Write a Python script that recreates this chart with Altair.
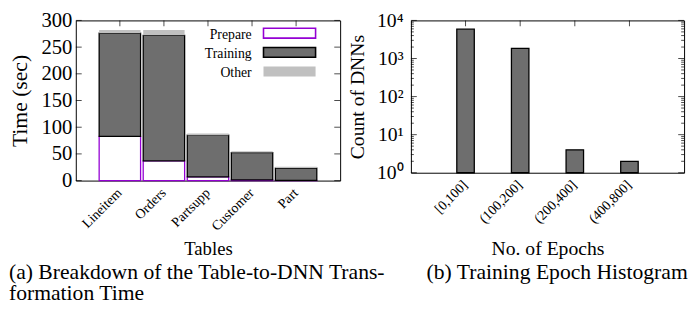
import altair as alt
import pandas as pd

# ---------------- data ----------------
tables = ["Lineitem", "Orders", "Partsupp", "Customer", "Part"]
prepare = [83, 37, 7, 1.5, 0.3]
training = [193, 235, 78, 51, 23.2]
other = [6, 10, 3, 2.5, 2.5]
series = ["Prepare", "Training", "Other"]
time_ticks = [0, 50, 100, 150, 200, 250, 300]

epochs = ["[0,100]", "(100,200]", "(200,400]", "(400,800]"]
counts = [5900, 1850, 4, 2]
count_ticks = [1, 10, 100, 1000, 10000]
count_minor = [2, 3, 4, 5, 6, 7, 8, 9,
               20, 30, 40, 50, 60, 70, 80, 90,
               200, 300, 400, 500, 600, 700, 800, 900,
               2000, 3000, 4000, 5000, 6000, 7000, 8000, 9000]

FONT = "'Liberation Serif', 'Times New Roman', Times, serif"
HATCH = "#6e6e6e"
fill_range = ["white", HATCH, "#c0c0c0"]
stroke_range = ["#9400d3", "black", "transparent"]

W1, H1 = 269, 163
W2, H2 = 278, 155

# ---------------- left panel ----------------
rows = []
for i, t in enumerate(tables):
    for k, (s, vals) in enumerate(zip(series, [prepare, training, other])):
        rows.append({"table": t, "series": s, "value": vals[i], "k": k})
df_a = pd.DataFrame(rows)

x_a_scale = alt.Scale(paddingInner=0.06, paddingOuter=0.53)
x_a_axis = alt.Axis(title="Tables", labelAngle=-45, labelFontSize=14, labelPadding=10,
                    labelBaseline="middle", labelAlign="right", titleFontSize=19,
                    titleY=75, titleBaseline="alphabetic")
y_a_scale = alt.Scale(domain=[0, 300], nice=False)
y_a_axis = alt.Axis(title="Time (sec)", values=time_ticks, labelFontSize=21,
                    labelPadding=4, titleFontSize=22, titlePadding=10)
fill_a = alt.Fill("series:N", scale=alt.Scale(domain=series, range=fill_range), legend=None)
stroke_a = alt.Stroke("series:N", scale=alt.Scale(domain=series, range=stroke_range), legend=None)

bars_a = alt.Chart(df_a).mark_bar(strokeWidth=1.3).encode(
    x=alt.X("table:N", sort=tables, scale=x_a_scale, axis=x_a_axis),
    y=alt.Y("value:Q", stack="zero", scale=y_a_scale, axis=y_a_axis),
    fill=fill_a, stroke=stroke_a, order=alt.Order("k:Q"),
)

yt_a = pd.DataFrame({"value": time_ticks})
ticks_a_left = alt.Chart(yt_a).mark_tick(orient="horizontal", size=6, thickness=1, color="black").encode(
    x=alt.value(3), y=alt.Y("value:Q", scale=y_a_scale, axis=y_a_axis))
ticks_a_right = alt.Chart(yt_a).mark_tick(orient="horizontal", size=6, thickness=1, color="black").encode(
    x=alt.value(W1 - 3), y=alt.Y("value:Q", scale=y_a_scale, axis=y_a_axis))
xt_a = pd.DataFrame({"table": tables})
ticks_a_top = alt.Chart(xt_a).mark_tick(orient="vertical", size=6, thickness=1, color="black").encode(
    x=alt.X("table:N", sort=tables, scale=x_a_scale, axis=x_a_axis), y=alt.value(3))

legend_layers = []
for i, s in enumerate(series):
    ldf = pd.DataFrame({"series": [s]})
    legend_layers.append(
        alt.Chart(ldf).mark_rect(strokeWidth=1.6).encode(
            x=alt.value(191), x2=alt.value(244),
            y=alt.value(8 + 19.5 * i), y2=alt.value(18 + 19.5 * i),
            fill=fill_a, stroke=stroke_a))
    legend_layers.append(
        alt.Chart(ldf).mark_text(align="right", baseline="middle", fontSize=14, font=FONT,
                                 color="black").encode(
            x=alt.value(179), y=alt.value(15 + 19.5 * i), text="series:N"))

title_a = alt.TitleParams(["(a) Breakdown of the Table-to-DNN Trans-", "formation Time"],
                          orient="bottom", anchor="start", frame="group", dx=-68,
                          fontSize=22, font=FONT, fontWeight="normal", lineHeight=22,
                          color="black", offset=4)

left = alt.layer(bars_a, ticks_a_left, ticks_a_right, ticks_a_top, *legend_layers).properties(
    width=W1, height=H1, title=title_a)

# ---------------- right panel ----------------
df_b = pd.DataFrame({"epoch": epochs, "count": counts})
x_b_scale = alt.Scale(paddingInner=0.68, paddingOuter=0.84)
x_b_axis = alt.Axis(title="No. of Epochs", labelAngle=-45, labelFontSize=14, labelPadding=10,
                    labelBaseline="middle", labelAlign="right", titleFontSize=20,
                    titleY=83, titleBaseline="alphabetic")
y_b_scale = alt.Scale(type="log", domain=[1, 10000], nice=False)
y_b_axis = alt.Axis(title="Count of DNNs", values=count_ticks,
                    labelExpr="'10' + ['⁰','¹','²','³','⁴'][round(log(datum.value)/LN10)]",
                    labelFontSize=20, labelPadding=8, titleFontSize=20, titlePadding=9)

bars_b = alt.Chart(df_b).mark_bar(fill=HATCH, stroke="black", strokeWidth=1.3).encode(
    x=alt.X("epoch:N", sort=epochs, scale=x_b_scale, axis=x_b_axis),
    y=alt.Y("count:Q", scale=y_b_scale, axis=y_b_axis),
    y2=alt.datum(1),
)

maj_b = pd.DataFrame({"count": count_ticks})
min_b = pd.DataFrame({"count": count_minor})
tick_layers_b = []
for dfv, size in [(maj_b, 6), (min_b, 3)]:
    for xpos in [size / 2, W2 - size / 2]:
        tick_layers_b.append(
            alt.Chart(dfv).mark_tick(orient="horizontal", size=size, thickness=1, color="black").encode(
                x=alt.value(xpos), y=alt.Y("count:Q", scale=y_b_scale, axis=y_b_axis)))
xt_b = pd.DataFrame({"epoch": epochs})
tick_layers_b.append(
    alt.Chart(xt_b).mark_tick(orient="vertical", size=6, thickness=1, color="black").encode(
        x=alt.X("epoch:N", sort=epochs, scale=x_b_scale, axis=x_b_axis), y=alt.value(3)))

title_b = alt.TitleParams("(b) Training Epoch Histogram", orient="bottom", anchor="start",
                          frame="group", dx=16, fontSize=22, font=FONT, fontWeight="normal",
                          color="black", offset=4)

right = alt.layer(bars_b, *tick_layers_b).properties(width=W2, height=H2, title=title_b)

chart = alt.hconcat(left, right, spacing=72, bounds="flush").properties(
    padding={"left": 0, "right": 0, "top": -2, "bottom": 0}
).configure_view(
    stroke="black", strokeWidth=1
).configure_axis(
    domain=False, ticks=False, grid=False, labelFont=FONT, titleFont=FONT,
    labelColor="black", titleColor="black", titleFontWeight="normal"
)

chart.save("out.html", embed_options={"renderer": "svg", "actions": False})
